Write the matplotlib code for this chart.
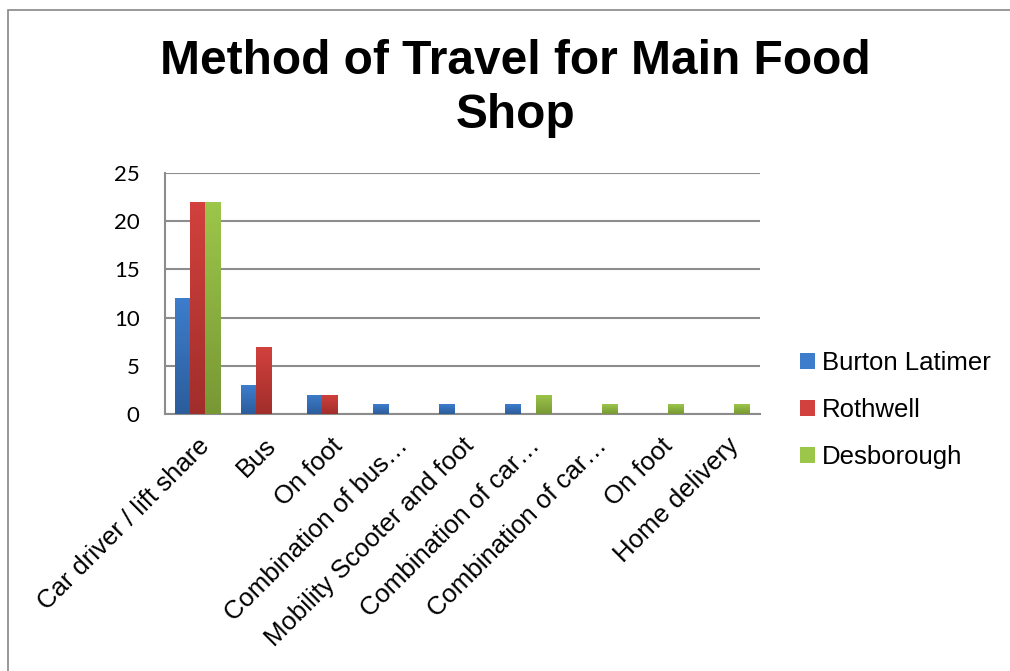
import matplotlib.pyplot as plt
from matplotlib.patches import Rectangle
from matplotlib.colors import LinearSegmentedColormap
import numpy as np

categories = ['Car driver / lift share', 'Bus', 'On foot', 'Combination of bus…',
              'Mobility Scooter and foot', 'Combination of car…', 'Combination of car…',
              'On foot', 'Home delivery']
burton = [12, 3, 2, 1, 1, 1, 0, 0, 0]
rothwell = [22, 7, 2, 0, 0, 0, 0, 0, 0]
desborough = [22, 0, 0, 0, 0, 2, 1, 1, 1]
# name, values, top colour, bottom colour
series = [('Burton Latimer', burton, '#3D7DCC', '#2C5D9C'),
          ('Rothwell', rothwell, '#D2413D', '#A12E2B'),
          ('Desborough', desborough, '#9CC64A', '#789835')]

plt.rcParams['font.family'] = ['Liberation Sans', 'DejaVu Sans']

fig = plt.figure(figsize=(10.1, 6.71), dpi=100)
fig.patches.append(Rectangle((8 / 1010, -0.1), 1.2, 1 - 10 / 671 + 0.1,
                             transform=fig.transFigure, fill=False,
                             edgecolor='#888888', linewidth=1.2))
ax = fig.add_axes([0.163, 0.383, 0.589, 0.359])

x = np.arange(len(categories))
w = 0.23
grad = np.linspace(1, 0, 64).reshape(-1, 1)
for i, (name, vals, top, bot) in enumerate(series):
    bars = ax.bar(x + (i - 1) * w, vals, w, color=top, label=name, zorder=3)
    cmap = LinearSegmentedColormap.from_list(name, [bot, top])
    for b in bars:
        if b.get_height() <= 0:
            continue
        bx, by = b.get_x(), b.get_y()
        im = ax.imshow(grad, cmap=cmap, aspect='auto', zorder=4,
                       extent=[bx, bx + b.get_width(), by, by + b.get_height()])
        im.set_clip_path(b)

ax.set_xlim(-0.5, len(categories) - 0.5)
ax.set_ylim(0, 25)
ax.set_yticks(range(0, 26, 5))
ax.yaxis.grid(True, color='#8c8c8c', linewidth=1.5, zorder=0)
for s in ['top', 'right']:
    ax.spines[s].set_visible(False)
for s in ['left', 'bottom']:
    ax.spines[s].set_color('#8c8c8c')
    ax.spines[s].set_linewidth(1.5)
ax.tick_params(axis='y', length=0, labelsize=16, pad=18)
ax.tick_params(axis='x', length=0, labelsize=18.5, pad=14)
for t in ax.get_yticklabels():
    t.set_family(['Lato', 'DejaVu Sans'])
ax.set_xticks(x)
ax.set_xticklabels(categories, rotation=45, ha='right', rotation_mode='anchor')

fig.text(0.51, 0.868, 'Method of Travel for Main Food\nShop', ha='center', va='center',
         fontsize=34.5, fontweight='bold', linespacing=1.25)

ax.legend(loc='center left', bbox_to_anchor=(0.792, 0.389), bbox_transform=fig.transFigure,
          frameon=False, fontsize=18.5, borderpad=0, borderaxespad=0,
          handlelength=0.6, handleheight=0.6, handletextpad=0.25, labelspacing=0.9)

fig.savefig('out.png', dpi=100)
